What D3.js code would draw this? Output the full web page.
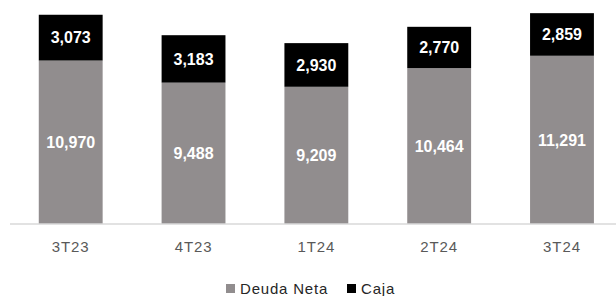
<!DOCTYPE html>
<html>
<head>
<meta charset="utf-8">
<script src="https://cdn.jsdelivr.net/npm/d3@7"></script>
<style>
  body { margin: 0; background: #fff; }
  svg { display: block; font-family: "Liberation Sans", Arial, sans-serif; }
</style>
</head>
<body>
<svg id="chart"></svg>
<script>
const categories = ["3T23", "4T23", "1T24", "2T24", "3T24"];
const deudaNeta = [10970, 9488, 9209, 10464, 11291];
const caja = [3073, 3183, 2930, 2770, 2859];
const seriesNames = ["Deuda Neta", "Caja"];

const width = 616;
const height = 296;
const colors = { "Deuda Neta": "#918d8e", "Caja": "#000000" };

const data = categories.map((c, i) => ({
  cat: c,
  "Deuda Neta": deudaNeta[i],
  "Caja": caja[i],
}));

const stack = d3.stack().keys(seriesNames)(data);

const x = d3
  .scaleBand()
  .domain(categories)
  .range([9.3, 623.4])
  .paddingInner(0.48)
  .paddingOuter(0.24);

const y = d3
  .scaleLinear()
  .domain([0, 15000])
  .range([224, 0.5]);

const svg = d3.select("#chart").attr("width", width).attr("height", height);

// bars
svg
  .selectAll("g.series")
  .data(stack)
  .join("g")
  .attr("class", "series")
  .attr("fill", (s) => colors[s.key])
  .selectAll("rect")
  .data((s) => s)
  .join("rect")
  .attr("x", (d) => x(d.data.cat))
  .attr("width", x.bandwidth())
  .attr("y", (d) => y(d[1]))
  .attr("height", (d) => y(d[0]) - y(d[1]));

// value labels
svg
  .selectAll("g.labels")
  .data(stack)
  .join("g")
  .attr("class", "labels")
  .selectAll("text")
  .data((s) => s)
  .join("text")
  .attr("x", (d) => x(d.data.cat) + x.bandwidth() / 2)
  .attr("y", (d) => (y(d[0]) + y(d[1])) / 2)
  .attr("dy", "0.36em")
  .attr("text-anchor", "middle")
  .attr("fill", "#fff")
  .attr("font-size", 16)
  .attr("font-weight", "bold")
  .text((d) => d3.format(",")(d[1] - d[0]));

// x axis
const xAxis = svg
  .append("g")
  .attr("transform", `translate(0,${y(0)})`)
  .call(d3.axisBottom(x).tickSize(0).tickPadding(17));
xAxis.select(".domain").attr("stroke", "#d9d9d9").attr("stroke-width", 1.5)
  .attr("d", `M10,0H${width}`);
xAxis.selectAll("text").attr("font-size", 15).attr("fill", "#595959")
  .attr("letter-spacing", 0.9)
  .attr("font-family", "Liberation Sans, Arial, sans-serif");

// legend
const legendX = { "Deuda Neta": 226, "Caja": 347 };
const legend = svg
  .selectAll("g.legend")
  .data(seriesNames)
  .join("g")
  .attr("class", "legend")
  .attr("transform", (d) => `translate(${legendX[d]},283)`);
legend
  .append("rect")
  .attr("y", 1)
  .attr("width", 9)
  .attr("height", 9)
  .attr("fill", (d) => colors[d]);
legend
  .append("text")
  .attr("x", 14)
  .attr("y", 10.5)
  .attr("font-size", 15)
  .attr("letter-spacing", 0.8)
  .attr("fill", "#262626")
  .text((d) => d);
</script>
</body>
</html>
